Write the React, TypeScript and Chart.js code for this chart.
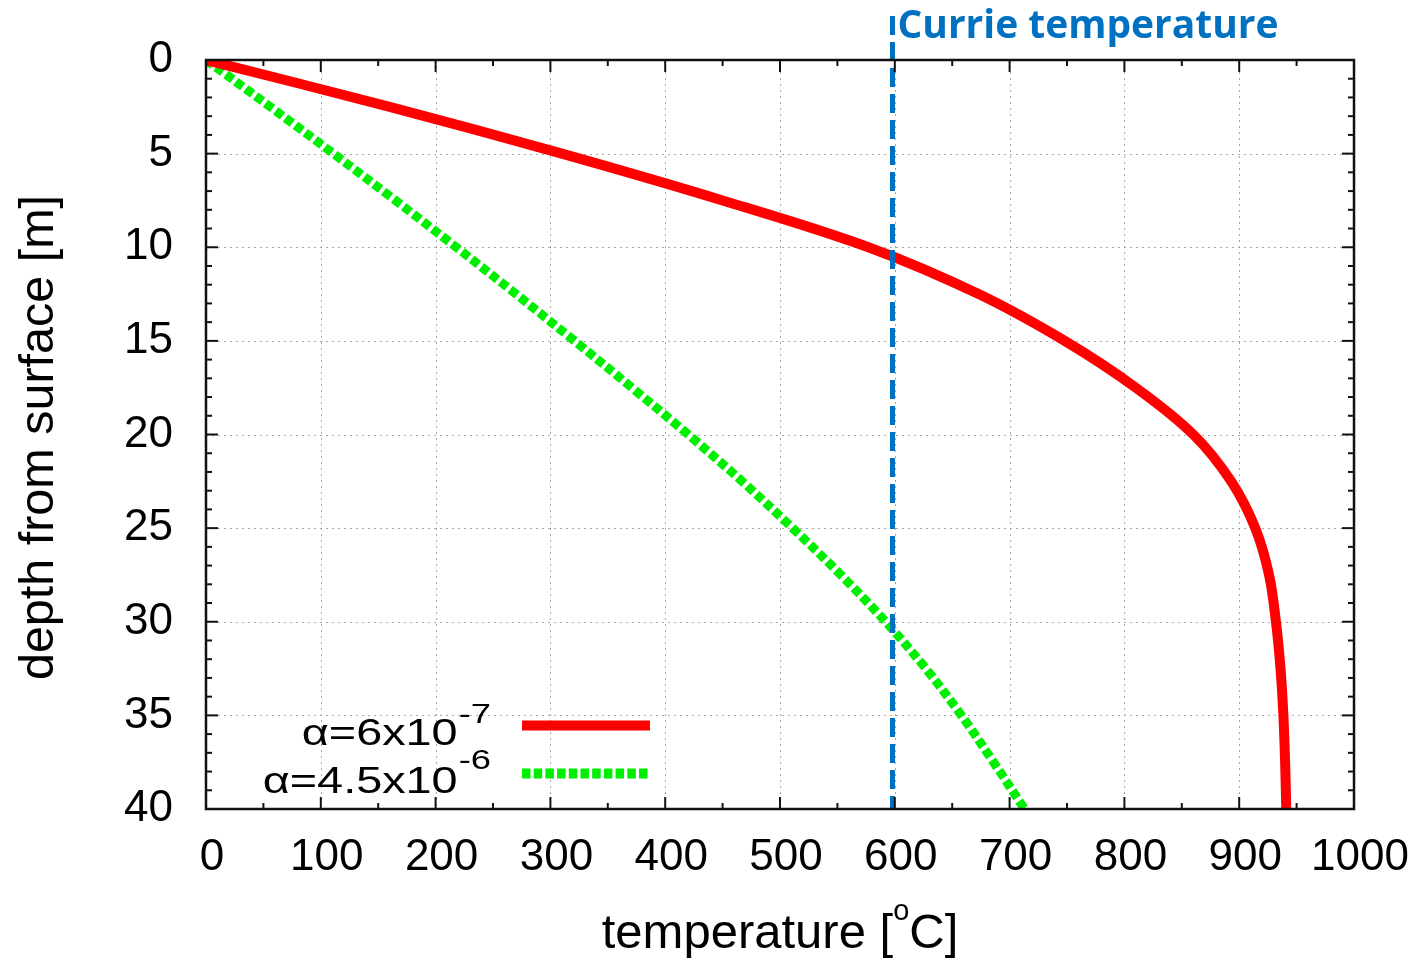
import React, { useEffect, useRef } from "react";
import { Chart, registerables } from "chart.js";

Chart.register(...registerables);

// depth below surface [m]
const depthM = [0, 2.5, 5, 7.5, 10, 12.5, 15, 17.5, 20, 22.5, 25, 27.5, 30, 32.5, 35, 37.5, 40];
// temperature [°C] for alpha = 6x10^-7
const tempAlphaSmall = [0, 160, 310, 450, 577, 673, 748, 810, 860, 893, 914, 926, 932, 936, 938.5, 940, 941];
// temperature [°C] for alpha = 4.5x10^-6
const tempAlphaLarge = [0, 56, 111, 165, 218, 270, 321, 371, 420, 467, 511, 553, 592, 627, 658, 686, 713];

const curieTemp = 598;
const curieDepths = [-2.35, 40];
const curieLabel = "Currie temperature";

const legendMain = ["α=6x10", "α=4.5x10"];
const legendSup = ["-7", "-6"];
const legendColors = ["#ff0000", "#00ee00"];

const xTitleParts = ["temperature [", "o", "C]"];
const yTitle = "depth from surface [m]";

const xMin = 0, xMax = 1000, xStep = 100;
const yMin = 0, yMax = 40, yStep = 5;

const FONT = "'Liberation Sans', Arial, Helvetica, sans-serif";

function stretchedText(ctx: CanvasRenderingContext2D, text: string, xRight: number, baseline: number, font: string, sx: number) {
  ctx.font = font;
  const w = ctx.measureText(text).width * sx;
  ctx.save();
  ctx.translate(xRight - w, baseline);
  ctx.scale(sx, 1);
  ctx.textAlign = "left";
  ctx.textBaseline = "alphabetic";
  ctx.fillText(text, 0, 0);
  ctx.restore();
  return w;
}

const decor = {
  id: "decor",
  beforeDatasetsDraw(chart: any) {
    const { ctx, chartArea: a, scales } = chart;
    const x = scales.x, y = scales.y;
    ctx.save();
    ctx.strokeStyle = "#a8a8a8";
    ctx.lineWidth = 1;
    ctx.setLineDash([2, 4]);
    x.ticks.forEach((t: any) => {
      if (t.value <= xMin || t.value >= xMax) return;
      const px = Math.round(x.getPixelForValue(t.value)) + 0.5;
      ctx.beginPath(); ctx.moveTo(px, a.top); ctx.lineTo(px, a.bottom); ctx.stroke();
    });
    y.ticks.forEach((t: any) => {
      if (t.value <= yMin || t.value >= yMax) return;
      const py = Math.round(y.getPixelForValue(t.value)) + 0.5;
      ctx.beginPath(); ctx.moveTo(a.left, py); ctx.lineTo(a.right, py); ctx.stroke();
    });
    ctx.restore();
  },
  afterDatasetsDraw(chart: any) {
    const { ctx, chartArea: a, scales } = chart;
    const x = scales.x, y = scales.y;
    ctx.save();
    // ticks (inward) on all four sides
    ctx.strokeStyle = "#111";
    ctx.lineWidth = 2;
    ctx.setLineDash([]);
    const xt = x.ticks.map((t: any) => t.value);
    const yt = y.ticks.map((t: any) => t.value);
    const major = 12, minor = 6;
    const vTick = (v: number, len: number) => {
      const px = x.getPixelForValue(v);
      ctx.beginPath(); ctx.moveTo(px, a.bottom); ctx.lineTo(px, a.bottom - len); ctx.stroke();
      ctx.beginPath(); ctx.moveTo(px, a.top); ctx.lineTo(px, a.top + len); ctx.stroke();
    };
    const hTick = (v: number, len: number) => {
      const py = y.getPixelForValue(v);
      ctx.beginPath(); ctx.moveTo(a.left, py); ctx.lineTo(a.left + len, py); ctx.stroke();
      ctx.beginPath(); ctx.moveTo(a.right, py); ctx.lineTo(a.right - len, py); ctx.stroke();
    };
    xt.forEach((v: number, i: number) => {
      vTick(v, major);
      if (i < xt.length - 1) vTick((v + xt[i + 1]) / 2, minor);
    });
    yt.forEach((v: number, i: number) => {
      hTick(v, major);
      if (i < yt.length - 1) {
        for (let k = 1; k < 5; k++) hTick(v + ((yt[i + 1] - v) * k) / 5, minor);
      }
    });
    // frame
    ctx.lineWidth = 2.5;
    ctx.strokeRect(a.left, a.top, a.right - a.left, a.bottom - a.top);

    // legend
    ctx.fillStyle = "#000";
    const sampleL = 522, sampleR = 650;
    const rows = [
      { main: 745, sup: 723, line: 725.5 },
      { main: 793, sup: 769, line: 773.5 },
    ];
    rows.forEach((r, i) => {
      const supW = stretchedText(ctx, legendSup[i], 491, r.sup, `28px ${FONT}`, 1.3);
      stretchedText(ctx, legendMain[i], 491 - supW - 1, r.main, `36px ${FONT}`, 1.3);
      ctx.strokeStyle = legendColors[i];
      ctx.lineCap = "butt";
      ctx.lineWidth = 10;
      if (i === 0) ctx.setLineDash([]);
      else ctx.setLineDash([8.5, 3.2]);
      ctx.beginPath(); ctx.moveTo(sampleL, r.line); ctx.lineTo(sampleR, r.line); ctx.stroke();
    });
    ctx.setLineDash([]);

    // Curie label
    const cx = x.getPixelForValue(curieTemp) + 5;
    ctx.font = `bold 40px 'Open Sans', sans-serif`;
    const cw = ctx.measureText(curieLabel).width;
    ctx.save();
    ctx.translate(cx, 38);
    ctx.scale(381 / cw, 1);
    ctx.fillStyle = "#0070C0";
    ctx.textAlign = "left";
    ctx.textBaseline = "alphabetic";
    ctx.fillText(curieLabel, 0, 0);
    ctx.restore();

    // x title with superscript
    ctx.fillStyle = "#000";
    ctx.textBaseline = "alphabetic";
    ctx.textAlign = "left";
    ctx.font = `49px ${FONT}`;
    const w1 = ctx.measureText(xTitleParts[0]).width;
    const w3 = ctx.measureText(xTitleParts[2]).width;
    ctx.font = `29px ${FONT}`;
    const w2 = ctx.measureText(xTitleParts[1]).width;
    const total = w1 + w2 + w3;
    const sx = (a.left + a.right) / 2 - total / 2;
    ctx.font = `49px ${FONT}`;
    ctx.fillText(xTitleParts[0], sx, 948);
    ctx.font = `29px ${FONT}`;
    ctx.fillText(xTitleParts[1], sx + w1, 920);
    ctx.font = `49px ${FONT}`;
    ctx.fillText(xTitleParts[2], sx + w1 + w2, 948);

    // y title
    ctx.save();
    ctx.translate(53, (a.top + a.bottom) / 2 + 3);
    ctx.rotate(-Math.PI / 2);
    ctx.textAlign = "center";
    ctx.font = `48.5px ${FONT}`;
    ctx.fillText(yTitle, 0, 0);
    ctx.restore();

    ctx.restore();
  },
};

export default function App() {
  const ref = useRef<HTMLCanvasElement | null>(null);
  useEffect(() => {
    if (!ref.current) return;
    const chart = new Chart(ref.current, {
      type: "scatter",
      data: {
        datasets: [
          {
            label: "Curie temperature",
            data: curieDepths.map((d) => ({ x: curieTemp, y: d })),
            showLine: true,
            borderColor: "#0070C0",
            borderWidth: 5,
            borderDash: [19, 7],
            pointRadius: 0,
            clip: false,
          } as any,
          {
            label: "α=6x10^-7",
            data: depthM.map((d, i) => ({ x: tempAlphaSmall[i], y: d })),
            showLine: true,
            borderColor: "#ff0000",
            borderWidth: 10,
            borderCapStyle: "round",
            pointRadius: 0,
            tension: 0.35,
          },
          {
            label: "α=4.5x10^-6",
            data: depthM.map((d, i) => ({ x: tempAlphaLarge[i], y: d })),
            showLine: true,
            borderColor: "#00ee00",
            borderWidth: 9,
            borderDash: [8.5, 3.8],
            pointRadius: 0,
            tension: 0.35,
          },
        ],
      },
      options: {
        animation: false,
        responsive: false,
        events: [],
        layout: { padding: { left: 0, right: 65, top: 60, bottom: 0 } },
        plugins: { legend: { display: false }, tooltip: { enabled: false } },
        scales: {
          x: {
            type: "linear",
            min: xMin,
            max: xMax,
            ticks: {
              stepSize: xStep,
              color: "#000",
              font: { family: FONT, size: 44 },
              padding: 22,
              labelOffset: 6,
              maxRotation: 0,
              autoSkip: false,
              callback: (v: any) => String(v),
            },
            grid: { display: false, drawTicks: false },
            border: { display: false },
            afterFit: (s: any) => { s.height = 152; s.paddingLeft = 0; s.paddingRight = 0; },
          },
          y: {
            type: "linear",
            reverse: true,
            min: yMin,
            max: yMax,
            ticks: {
              stepSize: yStep,
              color: "#000",
              font: { family: FONT, size: 44 },
              padding: 33,
              autoSkip: false,
              callback: (v: any) => String(v),
            },
            grid: { display: false, drawTicks: false },
            border: { display: false },
            afterFit: (s: any) => { s.width = 206; s.paddingTop = 0; s.paddingBottom = 0; },
          },
        },
      },
      plugins: [decor],
    });
    return () => chart.destroy();
  }, []);
  return (
    <div style={{ position: "fixed", left: 0, top: 0, width: 1419, height: 961, background: "#fff" }}>
      <canvas ref={ref} width={1419} height={961} style={{ display: "block" }} />
    </div>
  );
}
